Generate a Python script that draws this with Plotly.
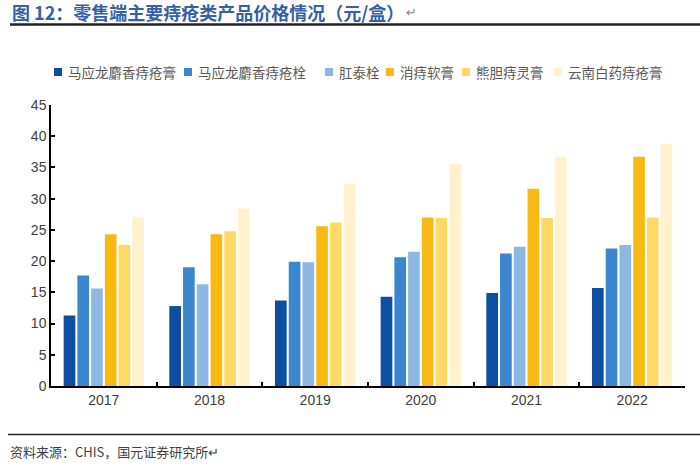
import plotly.graph_objects as go

years = ["2017", "2018", "2019", "2020", "2021", "2022"]
series_names = ["马应龙麝香痔疮膏", "马应龙麝香痔疮栓", "肛泰栓", "消痔软膏", "熊胆痔灵膏", "云南白药痔疮膏"]
mayinglong_gao = [11.3, 12.8, 13.7, 14.3, 14.9, 15.7]
mayinglong_shuan = [17.7, 19.0, 19.9, 20.6, 21.2, 22.0]
gangtai_shuan = [15.6, 16.3, 19.8, 21.5, 22.3, 22.6]
xiaozhi_gao = [24.3, 24.3, 25.6, 27.0, 31.6, 36.7]
xiongdan_gao = [22.6, 24.8, 26.2, 26.9, 26.9, 27.0]
yunnan_gao = [27.1, 28.4, 32.4, 35.6, 36.7, 38.8]
series_values = [mayinglong_gao, mayinglong_shuan, gangtai_shuan, xiaozhi_gao, xiongdan_gao, yunnan_gao]
colors = ["#0B4EA2", "#3A87D0", "#8DB8E3", "#F9B913", "#FFD966", "#FFF2CC"]
legend_x = [54, 184, 325, 386, 462, 554]

W, H = 700, 466
ML, MR, MT, MB = 51, 15, 105, 80
PW, PH = W - ML - MR, H - MT - MB


def px(x):
    return (x - ML) / PW


def py(y):
    return (H - MB - y) / PH


fig = go.Figure()
for name, vals, c in zip(series_names, series_values, colors):
    fig.add_trace(go.Bar(x=years, y=vals, name=name, marker=dict(color=c, line=dict(width=0))))

tickfont = dict(family="Liberation Sans, Arial", size=14, color="#404040")
fig.update_layout(
    width=W, height=H,
    margin=dict(l=ML, r=MR, t=MT, b=MB, autoexpand=False),
    paper_bgcolor="white", plot_bgcolor="white",
    barmode="group", bargap=0.22, bargroupgap=0.15,
    showlegend=False,
    xaxis=dict(showline=True, linecolor="black", linewidth=1.5, ticks="inside", ticklen=4,
               tickcolor="black", tickwidth=1.5, tickson="boundaries", tickfont=tickfont,
               showgrid=False, zeroline=False),
    yaxis=dict(range=[0, 45], dtick=5, showline=True, linecolor="black", linewidth=1.5,
               ticks="inside", ticklen=4, tickcolor="black", tickwidth=1.5, tickfont=tickfont,
               showgrid=False, zeroline=False),
)

# legend (custom, to match the uneven spacing of the reference)
for name, c, lx in zip(series_names, colors, legend_x):
    fig.add_shape(type="rect", xref="paper", yref="paper", x0=px(lx), x1=px(lx + 8),
                  y0=py(76), y1=py(68), fillcolor=c, line=dict(width=0))
    fig.add_annotation(xref="paper", yref="paper", x=px(lx + 12), y=py(72), xanchor="left",
                       yanchor="middle", text=name, showarrow=False,
                       font=dict(family="Noto Sans CJK SC", size=13.5, color="#595959"))

fig.add_annotation(xref="paper", yref="paper", x=px(10), y=py(12), xanchor="left", yanchor="middle",
                   text="<b>图 12：零售端主要痔疮类产品价格情况（元/盒）</b>", showarrow=False,
                   font=dict(family="Noto Sans CJK SC", size=18, color="#3560A8"))
fig.add_annotation(xref="paper", yref="paper", x=px(404), y=py(12), xanchor="left", yanchor="middle",
                   text="↵", showarrow=False, font=dict(family="DejaVu Sans", size=13, color="#888888"))
fig.add_shape(type="line", xref="paper", yref="paper", x0=px(10), x1=px(700), y0=py(24.5), y1=py(24.5),
              line=dict(color="#222222", width=2.5))
fig.add_shape(type="line", xref="paper", yref="paper", x0=px(8), x1=px(700), y0=py(434.5), y1=py(434.5),
              line=dict(color="#222222", width=1.5))
fig.add_annotation(xref="paper", yref="paper", x=px(8), y=py(451), xanchor="left", yanchor="middle",
                   text="资料来源：CHIS，国元证券研究所↵", showarrow=False,
                   font=dict(family="Noto Sans CJK SC", size=13, color="#404040"))

fig.write_html("out.html", config={"displayModeBar": False},
               post_script="document.body.style.margin='0';document.body.style.overflow='hidden';")
